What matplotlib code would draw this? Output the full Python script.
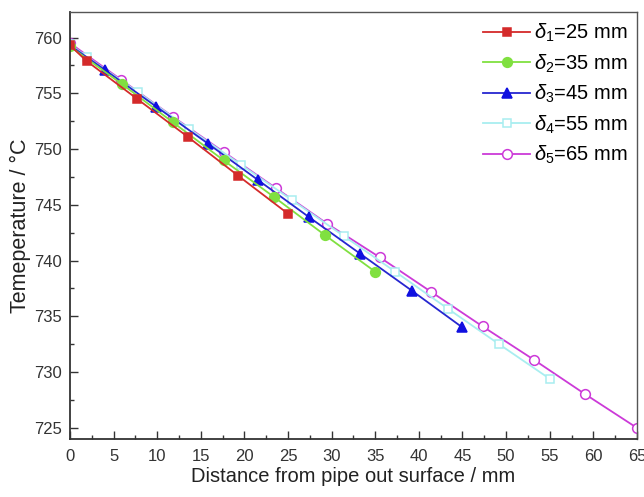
import matplotlib
matplotlib.use("Agg")
import matplotlib.pyplot as plt
from matplotlib.ticker import MultipleLocator

plt.rcParams['font.family'] = ['Liberation Sans', 'DejaVu Sans']
plt.rcParams['mathtext.fontset'] = 'custom'
plt.rcParams['mathtext.rm'] = 'Liberation Sans'
plt.rcParams['mathtext.it'] = 'Liberation Sans:italic'

# Data
x1 = [0, 1.9, 7.7, 13.5, 19.3, 25]
y1 = [759.3, 757.9, 754.5, 751.1, 747.6, 744.2]
x2 = [0, 6.0, 11.8, 17.6, 23.4, 29.2, 35]
y2 = [759.2, 755.8, 752.4, 749.0, 745.7, 742.3, 739.0]
x3 = [0, 4.0, 9.9, 15.8, 21.6, 27.4, 33.3, 39.2, 45]
y3 = [759.3, 757.1, 753.8, 750.5, 747.2, 743.9, 740.6, 737.3, 734.0]
x4 = [0, 1.9, 7.8, 13.7, 19.6, 25.5, 31.4, 37.3, 43.3, 49.2, 55]
y4 = [759.4, 758.3, 755.1, 751.8, 748.6, 745.4, 742.2, 739.0, 735.7, 732.5, 729.4]
x5 = [0, 5.9, 11.8, 17.7, 23.6, 29.5, 35.5, 41.4, 47.3, 53.2, 59.1, 65]
y5 = [759.5, 756.2, 752.9, 749.7, 746.5, 743.3, 740.3, 737.2, 734.1, 731.1, 728.0, 725.0]
labels = [r'$\delta_1$=25 mm', r'$\delta_2$=35 mm', r'$\delta_3$=45 mm',
          r'$\delta_4$=55 mm', r'$\delta_5$=65 mm']

fig = plt.figure(figsize=(6.44, 4.97), dpi=100)
ax = fig.add_axes([0.1087, 0.1167, 0.8803, 0.8593])

series = [
    (x1, y1, dict(color='#d42a2a', marker='s', mfc='#d42a2a', mec='#d42a2a')),
    (x2, y2, dict(color='#80e040', marker='o', mfc='#80e040', mec='#80e040')),
    (x3, y3, dict(color='#2626d0', marker='^', mfc='#1010e0', mec='#1010e0')),
    (x4, y4, dict(color='#a8eef0', marker='s', mfc='white', mec='#a8eef0')),
    (x5, y5, dict(color='#cc3ad8', marker='o', mfc='white', mec='#cc3ad8')),
]
handles = [None] * 5
for i in range(4, -1, -1):
    xs, ys, st = series[i]
    ms = 7 if st['marker'] in ('o', '^') else 6
    h, = ax.plot(xs, ys, lw=1.3, ms=ms, mew=1.1, label=labels[i], **st)
    handles[i] = h

ax.set_xlim(0, 65)
ax.set_ylim(724.0, 762.3)
ax.xaxis.set_major_locator(MultipleLocator(5))
ax.xaxis.set_minor_locator(MultipleLocator(2.5))
ax.yaxis.set_major_locator(MultipleLocator(5))
ax.yaxis.set_minor_locator(MultipleLocator(2.5))
ax.tick_params(which='both', direction='in', top=False, right=False,
               colors='#333333', labelsize=12, width=1.0)
ax.tick_params(axis='x', which='major', pad=7)
ax.tick_params(axis='y', which='major', pad=6)
ax.tick_params(which='major', length=6)
ax.tick_params(which='minor', length=3)
for s in ax.spines.values():
    s.set_color('#555555')
    s.set_linewidth(1.0)
ax.spines['left'].set_linewidth(1.3)
ax.spines['bottom'].set_linewidth(1.3)
ax.spines['left'].set_color('#333333')
ax.spines['bottom'].set_color('#333333')

ax.set_xlabel('Distance from pipe out surface / mm', fontsize=14.5, color='#222222', labelpad=2)
ax.set_ylabel('Temeperature / °C', fontsize=15.5, color='#222222', labelpad=2)

ax.legend(handles=handles, loc='upper right', bbox_to_anchor=(0.984, 0.976),
          frameon=False, fontsize=14.5, handlelength=2.35, labelspacing=0.4,
          handletextpad=0.2, borderaxespad=0.0, borderpad=0.0)

fig.savefig('out.png', dpi=100)
